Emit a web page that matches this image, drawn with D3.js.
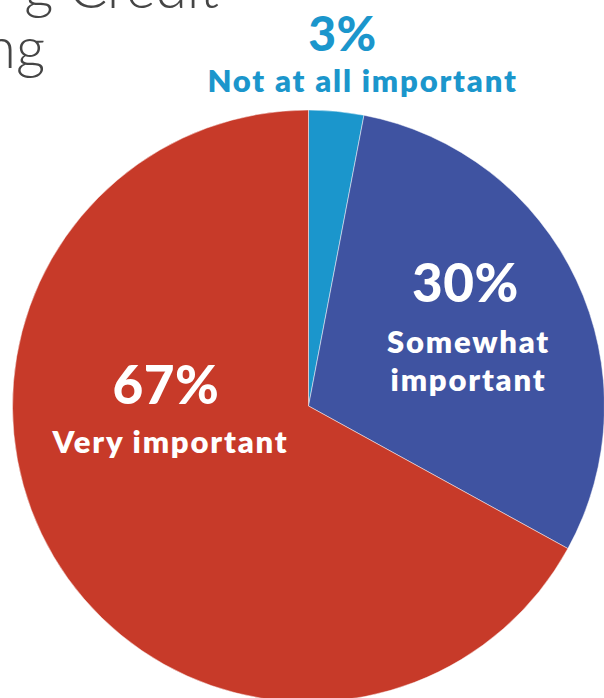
<!DOCTYPE html>
<html>
<head>
<meta charset="utf-8">
<script src="https://cdn.jsdelivr.net/npm/d3@7"></script>
<style>
  html, body { margin: 0; padding: 0; background: #ffffff; }
  svg { display: block; }
</style>
</head>
<body>
<script>
// Survey answers, in clockwise order from 12 o'clock
const categories = ["Not at all important", "Somewhat important", "Very important"];
const values = [3, 30, 67];
const colors = ["#1b96cc", "#3f53a1", "#c73a29"];
const valueLabels = ["3%", "30%", "67%"];
const categoryLines = [["Not at all important"], ["Somewhat", "important"], ["Very important"]];
const titleLines = ["g Credit", "ng"];

const width = 604, height = 698;
const cx = 308.5, cy = 406, radius = 296;

// label anchors relative to the pie centre (baselines of the percentage and category lines)
const labelLayout = [
  { x: 34, y: -355, size: 48, catX: 54, catY: -314, color: "#1b96cc" },
  { x: 157, y: -104, size: 53, catX: 160, catY: -53, color: "#ffffff" },
  { x: -142.5, y: -2, size: 53, catX: -138, catY: 47, color: "#ffffff" }
];

const svg = d3.select("body").append("svg")
  .attr("width", width).attr("height", height);

// title fragment at the top left
const title = svg.append("text")
  .attr("font-family", "Lato, 'Open Sans', sans-serif")
  .attr("font-weight", 300)
  .attr("font-size", 57)
  .attr("fill", "#454545")
  .attr("text-anchor", "end");
title.selectAll("tspan").data(titleLines).join("tspan")
  .attr("x", (d, i) => i === 0 ? 219 : 45)
  .attr("y", (d, i) => 8 + i * 60)
  .text(d => d);

const pie = d3.pie().sort(null).value(d => d);
const arc = d3.arc().innerRadius(0).outerRadius(radius);

const g = svg.append("g").attr("transform", `translate(${cx},${cy})`);

g.selectAll("path").data(pie(values)).join("path")
  .attr("d", arc)
  .attr("fill", (d, i) => colors[i])
  .attr("stroke", "#ffffff")
  .attr("stroke-opacity", 0.6)
  .attr("stroke-width", 0.8);

const labels = g.selectAll("g.label").data(values).join("g")
  .attr("class", "label")
  .attr("text-anchor", "middle")
  .attr("font-family", "Lato, 'Noto Sans', sans-serif")
  .attr("fill", (d, i) => labelLayout[i].color);

labels.append("text")
  .attr("x", (d, i) => labelLayout[i].x)
  .attr("y", (d, i) => labelLayout[i].y)
  .attr("font-weight", 900)
  .attr("font-size", (d, i) => labelLayout[i].size)
  .attr("letter-spacing", 0.5)
  .text((d, i) => valueLabels[i]);

labels.each(function(d, i) {
  const L = labelLayout[i];
  const t = d3.select(this).append("text")
    .attr("font-weight", 800)
    .attr("font-size", 31)
    .attr("letter-spacing", 1.8);
  t.selectAll("tspan").data(categoryLines[i]).join("tspan")
    .attr("x", L.catX)
    .attr("y", (s, j) => L.catY + j * 38)
    .text(s => s);
});
</script>
</body>
</html>
